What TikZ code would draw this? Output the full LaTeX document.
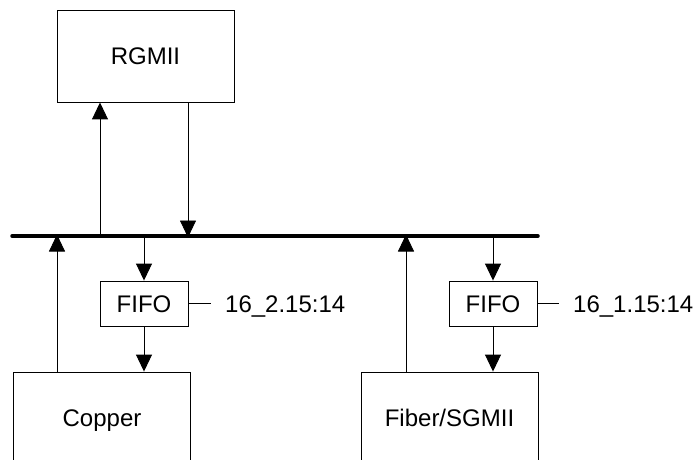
\documentclass[tikz,border=0pt]{standalone}
\usepackage{fontspec}
\setmainfont{Liberation Sans}
\usetikzlibrary{arrows.meta}
\begin{document}
\begin{tikzpicture}[x=1pt,y=-1pt,
  box/.style={draw,line width=0.9pt,rectangle,inner sep=0pt,font=\fontsize{24}{28}\selectfont,text height=17pt,text depth=0pt},
  bigbox/.style={box,minimum width=177pt,minimum height=92pt},
  fifobox/.style={box,minimum width=88pt,minimum height=45pt},
  arr/.style={line width=0.9pt,-{Triangle[width=16pt,length=17pt]}},
  lbl/.style={inner sep=0pt,anchor=base west,font=\fontsize{24}{28}\selectfont},
  bus/.style={line width=3.5pt,line cap=round}]
\useasboundingbox (0,0) rectangle (697,460);
\clip (0,0) rectangle (697,460);
% bus
\coordinate (busL) at (12,236);
\coordinate (busR) at (538,236);
\draw[bus] (busL) -- (busR);
% boxes
\node[bigbox] (rg) at (145.5,56) {RGMII};
\node[fifobox] (f1) at (144,303.5) {FIFO};
\node[fifobox] (f2) at (493,303.5) {FIFO};
\node[bigbox] (cu) at (102,418) {Copper};
\node[bigbox] (fb) at (449.5,418) {Fiber/SGMII};
% labels
\node[lbl] (l1) at (225,312) {16\_2.15:14};
\node[lbl] (l2) at (573,312) {16\_1.15:14};
\draw[line width=0.9pt] (f1.east) -- ([xshift=-14pt]l1.west |- f1.east);
\draw[line width=0.9pt] (f2.east) -- ([xshift=-14pt]l2.west |- f2.east);
% bus taps
\coordinate (t1) at (100,236);
\coordinate (t2) at (188,236);
\coordinate (t3) at (57,236);
\coordinate (t4) at (144,236);
\coordinate (t5) at (406,236);
\coordinate (t6) at (493,236);
% arrows
\draw[arr] (t1) -- (rg.south -| t1);
\draw[arr] (rg.south -| t2) -- ([yshift=-1.5pt]t2);
\draw[arr] (cu.north -| t3) -- ([yshift=1.5pt]t3);
\draw[arr] (t4) -- (f1.north);
\draw[arr] (f1.south) -- (cu.north -| f1.south);
\draw[arr] (fb.north -| t5) -- ([yshift=1.5pt]t5);
\draw[arr] (t6) -- (f2.north);
\draw[arr] (f2.south) -- (fb.north -| f2.south);
\end{tikzpicture}
\end{document}
